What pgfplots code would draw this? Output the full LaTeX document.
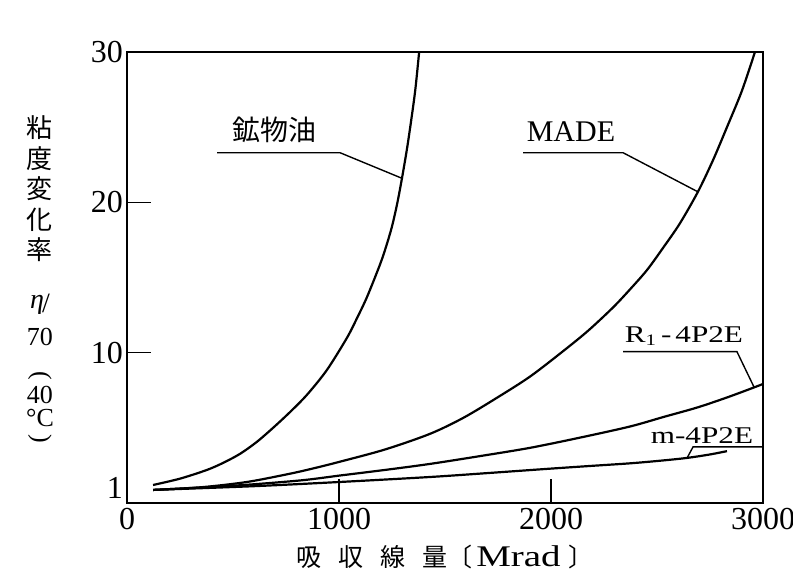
\documentclass[border=0pt]{standalone}
\usepackage{fontspec}
\usepackage{graphicx}
\usepackage{pgfplots}
\pgfplotsset{compat=1.18}
\setmainfont{Liberation Serif}
\newfontfamily\jp{Noto Sans CJK JP}
\newfontfamily\wide[FakeStretch=1.3]{Liberation Serif}

% viscosity change ratio vs absorbed dose
\pgfplotstableread{
x y
123 1.2
250 1.62
377 2.2
455 2.68
533 3.27
611 4.05
689 5.0
769 6.05
849 7.2
943 8.85
1038 11.0
1085 12.3
1132 13.7
1193 15.85
1222 17.05
1250 18.4
1275 19.95
1297 21.6
1320 23.5
1340 25.4
1360 27.5
1378 30
}\mineral
\pgfplotstableread{
x y
123 0.87
350 1.05
566 1.4
769 1.95
887 2.33
1005 2.75
1217 3.56
1429 4.6
1587 5.67
1745 7.0
1901 8.41
2057 10.1
2175 11.46
2292 13.0
2372 14.2
2453 15.5
2530 17.0
2608 18.6
2693 20.7
2764 22.8
2830 25.0
2900 27.4
2962 30
}\made
\pgfplotstableread{
x y
123 0.87
500 1.15
816 1.5
1005 1.83
1217 2.2
1429 2.6
1665 3.12
1901 3.67
2137 4.35
2373 5.09
2530 5.72
2689 6.35
2830 7.02
2960 7.7
3000 7.92
}\rone
\pgfplotstableread{
x y
123 0.87
600 1.12
1005 1.4
1429 1.73
1700 1.99
1981 2.27
2180 2.46
2373 2.64
2520 2.82
2642 3.0
2750 3.23
2830 3.45
}\mfour

\begin{document}
\begin{tikzpicture}
\path[use as bounding box] (-63.5pt,-41.5pt) rectangle (333pt,251.5pt);
\begin{axis}[
  scale only axis,
  width=318pt, height=225.5pt,
  xmin=0, xmax=3000, ymin=0, ymax=30,
  axis line style={line width=0.8pt},
  tick align=inside, xtick pos=bottom, ytick pos=left,
  xtick={1000,2000}, ytick={10,20},
  extra x ticks={0,3000}, extra y ticks={1,30},
  extra tick style={major tick length=0pt},
  major tick length=12pt,
  tick style={line width=0.6pt, black},
  /pgf/number format/1000 sep={},
  /pgf/number format/assume math mode=true,
  scaled x ticks=false,
  ticklabel style={font=\fontsize{16}{16}\selectfont},
  xticklabel style={yshift=1pt},
  yticklabel style={xshift=1.5pt},
  xlabel={\fontsize{12.5}{12.5}\selectfont\jp 吸\hspace{8.5pt}収\hspace{8.5pt}線\hspace{8.5pt}量〔\hspace{2pt}{\wide\fontsize{15}{15}\selectfont Mrad}\hspace{4pt}〕},
  xlabel style={at={(axis description cs:0.5,0)}, anchor=center, yshift=-27pt},
]
\addplot[black, line width=1.1pt, smooth] table {\mineral};
\addplot[black, line width=1.1pt, smooth] table {\made};
\addplot[black, line width=1.1pt, smooth] table {\rone};
\addplot[black, line width=1.1pt, smooth] table {\mfour};

% labels with leader lines
\draw[line width=0.7pt] (axis cs:425,23.3) -- (axis cs:1005,23.3) -- (axis cs:1297,21.6);
\node[font=\jp\fontsize{14}{14}\selectfont] at (axis cs:698,24.85) {鉱物油};
\draw[line width=0.7pt] (axis cs:1868,23.3) -- (axis cs:2340,23.3) -- (axis cs:2693,20.7);
\node[font=\fontsize{15}{15}\selectfont] at (axis cs:2094,24.7) {MADE};
\draw[line width=0.7pt] (axis cs:2340,10.07) -- (axis cs:2877,10.07) -- (axis cs:2958,7.7);
\node[font=\wide\fontsize{12}{12}\selectfont] at (axis cs:2627,11.1) {R\textsubscript{1}\,-\,4P2E};
\draw[line width=0.7pt] (axis cs:3000,3.73) -- (axis cs:2670,3.73) -- (axis cs:2642,3.0);
\node[font=\wide\fontsize{12}{12}\selectfont] at (axis cs:2712,4.47) {m-4P2E};
\end{axis}

% vertical y-axis title
\begin{scope}[every node/.style={inner sep=0pt, anchor=center}]
\node[font=\jp\fontsize{13}{13}\selectfont] at (-43.5pt,187.75pt) {粘};
\node[font=\jp\fontsize{13}{13}\selectfont] at (-43.5pt,172.4pt) {度};
\node[font=\jp\fontsize{13}{13}\selectfont] at (-43.5pt,157.1pt) {変};
\node[font=\jp\fontsize{13}{13}\selectfont] at (-43.5pt,141.8pt) {化};
\node[font=\jp\fontsize{13}{13}\selectfont] at (-43.5pt,126.5pt) {率};
\node[font=\fontsize{14}{14}\selectfont] at (-43.5pt,99.5pt) {\textit{η}\hspace{-1pt}\raisebox{-2pt}{/}};
\node[font=\fontsize{13}{13}\selectfont] at (-43.5pt,83pt) {70};
\node[font=\fontsize{13}{13}\selectfont] at (-43.5pt,63.5pt) {\rotatebox{-90}{(}};
\node[font=\fontsize{13}{13}\selectfont] at (-43.5pt,54pt) {40};
\node[font=\fontsize{13}{13}\selectfont] at (-43.5pt,42.5pt) {°C};
\node[font=\fontsize{13}{13}\selectfont] at (-43.5pt,32pt) {\rotatebox{-90}{)}};
\end{scope}
\end{tikzpicture}
\end{document}
